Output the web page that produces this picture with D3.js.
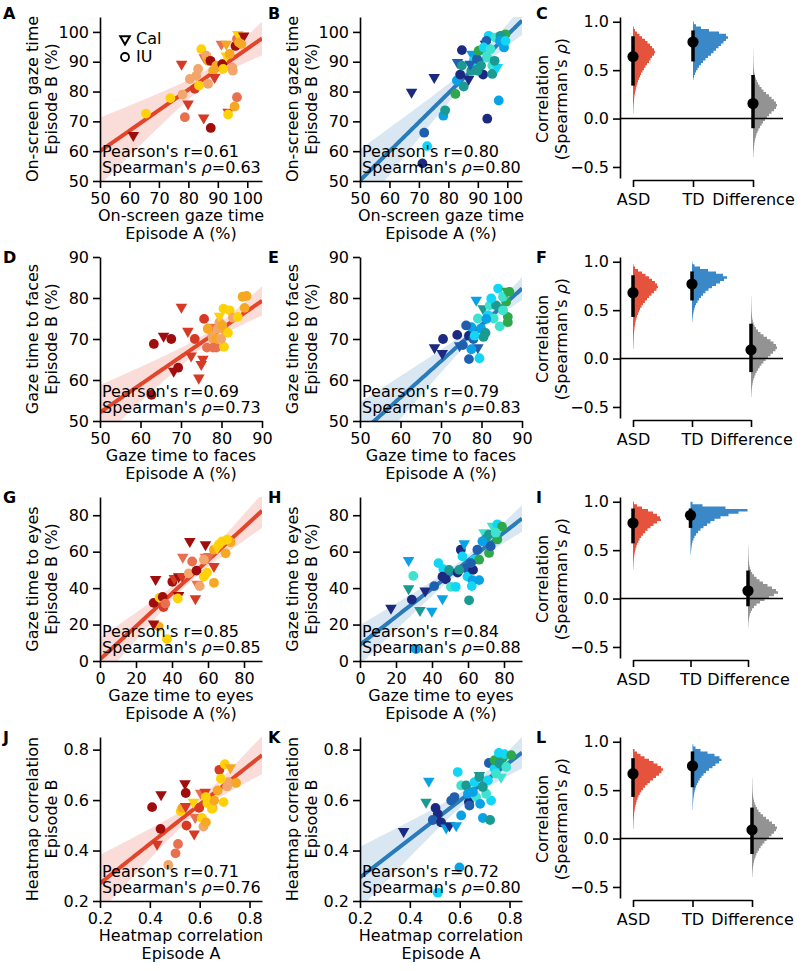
<!DOCTYPE html>
<html>
<head>
<meta charset="utf-8">
<script src="https://cdn.jsdelivr.net/npm/d3@7"></script>
<style>
  body { margin: 0; background: #fff; }
  svg text { font-family: "DejaVu Sans", sans-serif; font-size: 16px; fill: #000; }
</style>
</head>
<body>
<svg id="fig" width="797" height="971"></svg>
<script>
// ---- scatter data: [episode A, episode B, site ("t" = Cal, "c" = IU), colour index]
const onscreenASD = [
  [61.3,65.3,"t",0],[65.6,72.6,"c",5],[73.9,77.8,"c",5],[78,79,"c",3],[77.7,89.2,"t",1],
  [79.9,75.9,"t",1],[78.8,71.4,"c",2],[82.2,80.9,"c",1],[80.5,84.2,"c",3],[83.3,87.6,"c",3],
  [82.7,85.3,"c",3],[84.4,94.2,"c",5],[83.6,82.0,"c",5],[86.7,82.6,"c",3],[85.2,71.2,"t",1],
  [87.6,67.8,"c",0],[85.4,91.4,"t",2],[86.1,92.0,"c",3],[86.7,90.3,"c",4],[87.5,90.3,"c",0],
  [88.4,87.0,"c",4],[88.9,84.8,"t",1],[89.5,88.7,"c",4],[91.5,89.2,"c",0],[91.8,87.6,"c",5],
  [91.2,95.9,"t",2],[92.9,95.9,"t",4],[92.9,92.0,"t",5],[94.0,92.6,"c",4],[94.9,88.1,"c",3],
  [95.1,87.0,"c",3],[93.5,73.1,"t",1],[93.5,72.3,"c",5],[95.7,75.0,"c",4],[96.5,78.1,"c",2],
  [96.0,95.3,"c",0],[96.5,97.6,"c",2],[96.8,99.2,"t",5],[97.2,96.4,"c",4],[98.8,98.7,"t",0],
  [98.0,95.9,"c",4]
];
const onscreenTD = [
  [67.5,79.8,"t",0],[75.2,84.8,"t",0],[71.2,55.9,"c",0],[72.8,61.7,"c",3],[71.8,66.2,"c",1],
  [78.3,71.9,"c",2],[78.9,73.7,"c",5],[82.4,79.2,"c",6],[82.9,83.7,"c",2],[85.2,81.7,"c",5],
  [84.0,85.7,"c",0],[84.6,93.9,"c",0],[83.1,89.8,"t",1],[84.6,88.7,"c",5],[86.9,84.2,"t",0],
  [87.8,87.0,"c",5],[88.0,92.6,"t",2],[88.6,90.3,"c",3],[89.7,90.9,"c",1],[91.1,88.7,"c",5],
  [91.8,85.7,"c",0],[93.2,70.9,"c",0],[93.7,98.7,"c",3],[92.6,95.9,"t",0],[94.9,88.7,"c",4],
  [94.9,85.9,"c",5],[96.6,88.1,"t",3],[97.1,77.0,"c",2],[96.0,98.1,"c",4],[98.3,96.4,"c",6],
  [99.4,99.2,"c",6],[97.7,98.7,"c",5],[93.2,91.4,"c",4],[92.0,93.7,"t",4],[92.9,97.0,"c",1],
  [98.9,94.8,"c",2],[89.9,87.0,"c",5],[90.3,93.7,"c",6],[87.4,89.2,"t",1],[92.0,94.8,"c",3],
  [94.3,94.2,"c",4],[95.7,90.3,"c",5],[97.5,97.0,"c",2],[99.4,97.0,"c",3]
];
const facesASD = [
  [62.7,56.4,"c",0],[63.3,68.8,"c",0],[65.7,70.7,"t",0],[67.6,70.0,"c",0],[70.1,77.8,"t",1],
  [71.7,71.9,"t",1],[69.3,63.0,"c",0],[68.2,62.2,"t",0],[72.5,65.9,"t",1],[73.4,70.0,"c",1],
  [74.4,60.5,"t",1],[75.0,63.8,"t",1],[75.4,65.1,"t",1],[75.7,74.9,"c",1],[76.4,67.9,"c",2],
  [77.5,72.9,"t",2],[77.9,70.0,"c",3],[78.7,67.9,"c",2],[79.1,72.5,"c",3],[79.5,74.1,"c",3],
  [79.5,75.6,"t",5],[80.2,73.3,"c",4],[80.5,77.4,"c",5],[80.6,68.1,"c",5],[81.1,71.8,"c",4],
  [81.6,71.5,"c",5],[82.0,77.0,"c",5],[77.7,70.8,"c",3],[78.7,70.0,"c",4],[85.2,80.3,"c",4],
  [86.2,80.5,"c",4],[85.7,77.6,"c",4],[82.8,75.2,"c",3],[84.0,75.4,"c",5],[76.6,72.5,"c",4],
  [77.9,67.9,"c",2],[79.9,70.0,"c",3]
];
const facesTD = [
  [68.4,67.9,"t",0],[70.5,70.0,"c",0],[70.3,66.5,"t",0],[74.0,71.0,"c",0],[75.4,68.5,"c",1],
  [76.9,70.8,"c",0],[76.9,65.1,"c",1],[77.5,72.9,"c",2],[78.0,70.0,"c",1],[78.7,79.5,"t",2],
  [79.5,65.3,"c",3],[79.1,67.9,"t",1],[79.9,72.5,"c",2],[79.1,75.0,"c",4],[80.4,77.4,"t",5],
  [81.0,71.5,"c",5],[81.6,75.8,"c",3],[82.0,78.2,"c",4],[83.0,75.0,"c",4],[84.1,82.3,"c",3],
  [84.5,73.1,"c",4],[86.1,79.1,"c",6],[86.5,75.4,"c",6],[86.5,74.1,"c",6],[86.9,81.5,"c",6],
  [85.3,80.3,"c",4],[86.3,81.7,"t",6],[83.6,78.2,"c",5],[81.2,74.9,"c",2],[78.3,70.8,"c",3],
  [77.5,67.5,"c",2],[85.3,77.0,"c",4],[76.2,73.3,"c",1],[74.6,68.4,"t",1],[82.4,79.9,"c",3],
  [80.5,70.5,"c",5]
];
const eyesASD = [
  [37.2,12.0,"c",5],[32.6,18.9,"c",4],[29.8,20.4,"t",0],[29.8,31.9,"c",0],[33.1,34.8,"c",5],
  [34.8,35.2,"c",0],[30.9,44.8,"t",0],[35.3,29.6,"c",1],[36.3,31.5,"c",2],[40.2,43.5,"c",0],
  [41.3,45.4,"t",1],[43.7,46.3,"t",0],[43.7,36.1,"t",0],[43.2,34.3,"c",5],[45.6,46.3,"t",1],
  [46.0,57.0,"t",2],[49.9,65.7,"t",0],[49.3,48.1,"c",3],[51.2,54.6,"c",2],[53.0,34.3,"t",1],
  [53.6,49.6,"c",0],[54.0,42.2,"t",2],[55.4,41.1,"c",3],[58.6,63.9,"t",0],[57.7,46.3,"c",5],
  [59.5,48.5,"c",5],[63.3,42.9,"c",4],[58.6,57.0,"t",2],[63.3,51.9,"t",1],[60.5,57.4,"t",2],
  [63.3,61.1,"c",4],[66.0,63.9,"c",5],[67.9,65.7,"c",5],[69.8,59.1,"c",4],[72.6,65.2,"c",4],
  [70.7,66.7,"c",5],[65.1,62.0,"t",5],[57.7,55.6,"c",3]
];
const eyesTD = [
  [17.2,29.1,"t",0],[27.0,55.2,"t",2],[29.6,46.7,"c",4],[27.0,39.8,"t",5],[28.8,33.7,"c",0],
  [31.1,6.5,"c",2],[33.3,27.8,"t",5],[39.9,27.4,"t",2],[36.2,38.5,"t",0],[41.2,41.1,"c",1],
  [43.6,53.7,"c",3],[45.8,34.3,"t",2],[46.3,50.4,"c",3],[47.7,44.8,"c",0],[49.5,50.0,"c",5],
  [50.5,40.7,"c",4],[53.2,40.7,"c",3],[54.2,48.5,"c",0],[56.0,61.1,"c",0],[57.9,64.4,"t",2],
  [58.8,50.9,"c",1],[60.6,33.3,"c",5],[59.7,46.3,"c",3],[62.5,44.4,"c",2],[62.1,41.1,"c",3],
  [62.8,50.0,"c",0],[65.2,61.1,"c",1],[66.2,44.4,"c",2],[63.4,55.6,"c",3],[66.2,55.6,"c",6],
  [71.7,59.3,"c",6],[68.9,70.4,"t",4],[69.9,67.0,"c",5],[68.0,65.7,"c",2],[71.7,69.4,"c",5],
  [76.3,66.7,"c",6],[73.6,74.1,"t",4],[76.3,75.0,"c",3],[78.9,73.7,"c",6],[75.4,70.4,"c",4],
  [72.6,63.0,"c",1],[55.1,50.0,"c",5],[45.8,46.3,"c",0],[56.9,57.4,"c",3],[61.6,53.7,"c",1]
];
const heatASD = [
  [0.409,0.572,"c",0],[0.445,0.622,"t",0],[0.443,0.486,"c",0],[0.429,0.426,"t",1],[0.474,0.343,"c",3],
  [0.503,0.389,"c",2],[0.513,0.426,"c",2],[0.541,0.665,"t",0],[0.544,0.628,"c",0],[0.524,0.556,"c",5],
  [0.530,0.569,"c",4],[0.544,0.575,"t",1],[0.547,0.499,"c",1],[0.582,0.532,"t",2],[0.578,0.466,"t",1],
  [0.598,0.569,"c",1],[0.575,0.592,"t",5],[0.609,0.529,"c",5],[0.615,0.495,"c",3],[0.625,0.512,"c",4],
  [0.604,0.628,"t",2],[0.622,0.632,"t",1],[0.631,0.588,"c",5],[0.652,0.569,"c",3],[0.649,0.565,"c",5],
  [0.658,0.598,"c",4],[0.696,0.592,"c",5],[0.679,0.720,"c",1],[0.701,0.742,"c",5],[0.723,0.729,"t",4],
  [0.715,0.671,"c",3],[0.746,0.668,"c",4],[0.685,0.685,"c",5],[0.710,0.654,"c",3],[0.672,0.638,"c",4],
  [0.625,0.612,"c",5]
];
const heatTD = [
  [0.375,0.476,"t",0],[0.476,0.675,"t",2],[0.465,0.592,"t",5],[0.503,0.569,"c",0],[0.512,0.545,"c",0],
  [0.492,0.521,"c",1],[0.525,0.512,"c",0],[0.546,0.490,"t",2],[0.559,0.499,"t",0],[0.586,0.499,"t",2],
  [0.599,0.333,"c",2],[0.512,0.233,"c",3],[0.579,0.612,"c",1],[0.592,0.711,"c",3],[0.606,0.539,"c",2],
  [0.606,0.658,"c",4],[0.626,0.658,"c",5],[0.637,0.592,"c",0],[0.639,0.578,"c",1],[0.633,0.625,"c",2],
  [0.659,0.671,"c",3],[0.666,0.612,"c",4],[0.682,0.585,"c",2],[0.679,0.691,"c",5],[0.679,0.698,"t",5],
  [0.717,0.747,"c",1],[0.726,0.598,"c",3],[0.693,0.529,"c",2],[0.722,0.521,"c",5],[0.706,0.625,"c",4],
  [0.740,0.725,"c",3],[0.766,0.691,"t",4],[0.740,0.758,"c",6],[0.773,0.768,"c",6],[0.757,0.787,"c",3],
  [0.780,0.782,"c",3],[0.807,0.778,"c",6],[0.746,0.705,"c",4],[0.760,0.745,"c",5],[0.653,0.632,"c",2],
  [0.566,0.598,"c",1],[0.713,0.678,"c",3],[0.787,0.731,"c",4],[0.693,0.652,"c",5]
];

const pearsonVals  = [0.61, 0.80, 0.69, 0.79, 0.85, 0.84, 0.71, 0.72];
const spearmanVals = [0.63, 0.80, 0.73, 0.83, 0.85, 0.88, 0.76, 0.80];
// regression line: fitted Episode B at the left and right axis limits
const fitEnds = [[60.0, 97.8], [50.2, 103.8], [52.1, 79.3], [46.9, 82.3],
                 [0.9, 82.4], [8.9, 78.2], [0.270, 0.778], [0.293, 0.788]];

const measureNames = ["On-screen gaze time", "Gaze time to faces", "Gaze time to eyes", "Heatmap correlation"];
const episodeB = ["Episode B (%)", "Episode B (%)", "Episode B (%)", "Episode B"];
const episodeA = ["Episode A (%)", "Episode A (%)", "Episode A (%)", "Episode A"];
const axisDomains = [[50, 105], [50, 90], [0, 90], [0.2, 0.85]];
const axisTicks = [[50,60,70,80,90,100], [50,60,70,80,90], [0,20,40,60,80], [0.2,0.4,0.6,0.8]];

// ---- bootstrap distributions of Spearman's rho: [first bin lower edge, counts per 0.025 bin]
const groups = ["ASD", "TD", "Difference"];
const binW = 0.025;
const histC = [
  [0.05, [0.3,0.4,0.5,0.6,0.8,1,1.2,1.5,2,2.5,3,3.6,4.3,5,6,7,8,9.5,11,12.5,14,16,17.5,19,21,22,21,19,17,14.5,12,9,6.5,4,2,0.8]],
  [0.40, [0.5,1,2,3,4.5,6,8,10,12.5,15,18,20.5,23,25.5,28,30.5,33,35,33,26,16,8,3,0.8]],
  [-0.40, [0.3,0.4,0.6,0.8,1,1.3,1.7,2.2,2.8,3.5,4.5,5.5,7,8.5,10,12,14,16,18.5,21,23,24,23,21,18.5,16,13,10.5,8.5,6.5,5,3.8,2.8,2,1.5,1.1,0.8,0.6,0.5,0.4,0.3,0.3,0.2,0.2,0.1]]
];
const histF = [
  [0.10, [0.3,0.4,0.5,0.6,0.7,0.8,1,1.2,1.5,1.8,2.2,2.7,3.3,4,5,6,7,8.5,10,12,14,16,18.5,21,23.5,25,24,22,19,16,12.5,9,5,2,0.5]],
  [0.375, [0.3,0.5,0.8,1.2,1.7,2.3,3,4,5.5,7,9,11,13.5,16.5,20,24,28,32,35,31,24,16,8,2.5,0.5]],
  [-0.40, [0.3,0.4,0.6,0.8,1.1,1.5,2,2.6,3.4,4.4,5.6,7,8.6,10.4,12.4,14.6,17,19.5,22,24.5,26,25,22.5,19.5,16,12.5,9.5,7,5,3.5,2.5,1.8,1.3,1,0.8,0.6,0.5,0.4,0.3,0.3,0.2,0.2]]
];
const histI = [
  [0.30, [0.3,0.4,0.5,0.7,0.9,1.2,1.5,2,2.6,3.3,4.2,5.3,6.6,8.2,10,12.2,14.6,17.5,20.5,24,28,27,24,20,15,9,4,1]],
  [0.45, [0.3,0.5,0.8,1.1,1.5,2,3,4,5.5,7.5,10,13,16.5,20,24,30,38,48,57,35,12,2]],
  [-0.30, [0.3,0.4,0.6,0.9,1.3,1.9,2.8,4,6,8.5,12,16.5,21,26,30,28,24,19.5,15,11.5,8.5,6,4.2,3,2.1,1.5,1.1,0.8,0.6,0.5,0.4,0.3,0.3,0.2]]
];
const histL = [
  [0.10, [0.3,0.4,0.5,0.6,0.8,1,1.2,1.5,1.9,2.4,3,3.7,4.5,5.5,6.8,8.2,10,12,14.5,17,20,23,26,28.5,30,28,24.5,20.5,16,11.5,7.5,4,1.5]],
  [0.30, [0.3,0.4,0.5,0.7,0.9,1.2,1.6,2.1,2.8,3.6,4.6,5.8,7.2,9,11,13.5,16.5,20,23,26.5,29,27,22,15,8,3,0.8]],
  [-0.40, [0.3,0.4,0.6,0.8,1.1,1.5,2,2.6,3.4,4.4,5.6,7,8.6,10.4,12.4,14.6,17,19.5,22,24,25,23,20,17,14,11,8.5,6.5,5,3.7,2.7,2,1.5,1.1,0.8,0.6,0.5,0.4,0.3,0.3,0.2]]
];
// point estimate, lower CI, upper CI for ASD, TD, Difference
const estC = [[0.64,0.34,0.85],[0.79,0.59,0.91],[0.155,-0.10,0.45]];
const estF = [[0.68,0.43,0.86],[0.77,0.60,0.90],[0.09,-0.14,0.36]];
const estI = [[0.78,0.57,0.93],[0.86,0.73,0.93],[0.08,-0.08,0.29]];
const estL = [[0.67,0.43,0.83],[0.75,0.53,0.90],[0.09,-0.16,0.32]];

const palASD = ["#a00d0d", "#d73a24", "#e9704e", "#f3a66b", "#f7a823", "#ffd109"];
const palTD  = ["#1b2a80", "#1f5fae", "#0aa2e6", "#12d6f5", "#3ee3cf", "#1a9a90", "#2ea84a"];
const lineASD = "#e3452b", lineTD = "#2a7bba";
const histColors = ["#e5533d", "#3a88c8", "#939393"];

const svg = d3.select("#fig");
const rowTop = [17, 257, 497, 737];
const labelBase = [19, 263, 503, 743];
const plotW = 162, plotH = 164;

function styleAxis(g) {
  g.select(".domain").attr("stroke", "#000").attr("stroke-width", 1.6);
  g.selectAll(".tick line").attr("stroke", "#000").attr("stroke-width", 1.6);
  g.selectAll(".tick text").attr("font-size", 16).attr("font-family", "DejaVu Sans");
}

function scatterPanel(o) {
  const x = d3.scaleLinear().domain(o.dom).range([o.left, o.left + plotW]);
  const y = d3.scaleLinear().domain(o.dom).range([o.top + plotH, o.top]);
  const cid = "clip" + o.letter;
  svg.append("clipPath").attr("id", cid).append("rect")
    .attr("x", o.left).attr("y", o.top).attr("width", plotW).attr("height", plotH);

  // fitted line (from the figure) and its 95% band from the scatter's residuals
  const b = (o.fit[1] - o.fit[0]) / (o.dom[1] - o.dom[0]);
  const a = o.fit[0] - b * o.dom[0];
  const xs = o.pts.map(d => d[0]), ys = o.pts.map(d => d[1]);
  const n = xs.length, mx = d3.mean(xs);
  let sxx = 0, sse = 0;
  xs.forEach((v, i) => { sxx += (v - mx) ** 2; sse += (ys[i] - a - b * v) ** 2; });
  const s = Math.sqrt(sse / (n - 2));
  const grid = d3.range(0, 101).map(i => o.dom[0] + (o.dom[1] - o.dom[0]) * i / 100);
  const band = grid.map(v => {
    const se = s * Math.sqrt(1 / n + (v - mx) ** 2 / sxx);
    return { x: v, fit: a + b * v, lo: a + b * v - 2.02 * se, hi: a + b * v + 2.02 * se };
  });
  const clipped = svg.append("g").attr("clip-path", `url(#${cid})`);
  clipped.append("path").datum(band)
    .attr("d", d3.area().x(d => x(d.x)).y0(d => y(d.lo)).y1(d => y(d.hi)))
    .attr("fill", o.line).attr("fill-opacity", 0.18);

  const tri = d3.symbol(d3.symbolTriangle, 58)();
  const pg = svg.append("g");
  o.pts.forEach(d => {
    if (d[2] === "c") {
      pg.append("circle").attr("cx", x(d[0])).attr("cy", y(d[1])).attr("r", 4.9).attr("fill", o.pal[d[3]]);
    } else {
      pg.append("path").attr("d", tri)
        .attr("transform", `translate(${x(d[0])},${y(d[1])}) rotate(180)`).attr("fill", o.pal[d[3]]);
    }
  });

  clipped.append("path").datum(band)
    .attr("d", d3.line().x(d => x(d.x)).y(d => y(d.fit)))
    .attr("fill", "none").attr("stroke", o.line).attr("stroke-width", 4);

  const fmt = o.dom[1] < 1 ? d3.format(".1f") : d3.format("d");
  svg.append("g").attr("transform", `translate(0,${o.top + plotH})`)
    .call(d3.axisBottom(x).tickValues(o.ticks).tickFormat(fmt).tickSize(7).tickSizeOuter(0).tickPadding(5))
    .call(styleAxis);
  svg.append("g").attr("transform", `translate(${o.left},0)`)
    .call(d3.axisLeft(y).tickValues(o.ticks).tickFormat(fmt).tickSize(7).tickSizeOuter(0).tickPadding(4))
    .call(styleAxis);

  // stats text
  const tx = svg.append("g");
  tx.append("text").attr("x", o.left + 2).attr("y", o.top + plotH - 24)
    .text(`Pearson's r=${o.r.toFixed(2)}`);
  const t2 = tx.append("text").attr("x", o.left + 2).attr("y", o.top + plotH - 8);
  t2.append("tspan").text("Spearman's ");
  t2.append("tspan").attr("font-style", "italic").text("ρ");
  t2.append("tspan").text(`=${o.rho.toFixed(2)}`);

  // axis labels
  svg.append("text").attr("x", o.left + plotW / 2).attr("y", o.top + plotH + 40)
    .attr("text-anchor", "middle").text(o.name);
  svg.append("text").attr("x", o.left + plotW / 2).attr("y", o.top + plotH + 58)
    .attr("text-anchor", "middle").text(o.xSub);
  [[o.name, 68], [o.ySub, 49]].forEach(([t, off]) => {
    svg.append("text")
      .attr("transform", `translate(${o.left - off},${o.top + plotH / 2}) rotate(-90)`)
      .attr("text-anchor", "middle").attr("dy", "0.35em").text(t);
  });

  svg.append("text").attr("x", o.left - (o.left > 200 ? 92 : 97)).attr("y", o.labelY)
    .attr("font-weight", "bold").attr("font-size", 17).text(o.letter);
}

function bootPanel(o) {
  const left = 620, T = o.top;
  const y = d3.scaleLinear().domain([-0.614, 1.049]).range([T + 161, T]);
  const x = d3.scalePoint().domain(groups).range([633, o.xEnd]);
  const w = d3.scaleLinear().domain([0, 60]).range([0, 60]);

  // half-violin histograms as stepped areas
  o.hist.forEach(([start, counts], gi) => {
    const cx = x(groups[gi]);
    const steps = counts.flatMap((c, j) => [[start + j * binW, c], [start + (j + 1) * binW, c]]);
    svg.append("path").datum(steps)
      .attr("d", d3.area().y(d => y(d[0])).x0(cx).x1(d => cx + w(d[1])))
      .attr("fill", histColors[gi]);
  });

  svg.append("line").attr("x1", left).attr("x2", 783).attr("y1", y(0)).attr("y2", y(0))
    .attr("stroke", "#000").attr("stroke-width", 1.6);

  o.est.forEach(([m, lo, hi], gi) => {
    const cx = x(groups[gi]);
    svg.append("line").attr("x1", cx).attr("x2", cx).attr("y1", y(lo)).attr("y2", y(hi))
      .attr("stroke", "#000").attr("stroke-width", 3.5);
    svg.append("circle").attr("cx", cx).attr("cy", y(m)).attr("r", 5.6).attr("fill", "#000");
  });

  svg.append("g").attr("transform", `translate(${left},0)`)
    .call(d3.axisLeft(y).tickValues([-0.5, 0, 0.5, 1.0]).tickFormat(d3.format(".1f"))
      .tickSize(7).tickSizeOuter(0).tickPadding(4))
    .call(styleAxis);

  // trimmed bottom axis
  svg.append("g").attr("transform", `translate(0,${T + 163})`)
    .call(d3.axisBottom(x).tickSize(7).tickSizeOuter(0).tickPadding(7))
    .call(styleAxis);

  svg.append("text")
    .attr("transform", `translate(${left - 78},${T + 82}) rotate(-90)`)
    .attr("text-anchor", "middle").attr("dy", "0.35em").text("Correlation");
  const yl = svg.append("text")
    .attr("transform", `translate(${left - 59},${T + 82}) rotate(-90)`)
    .attr("text-anchor", "middle").attr("dy", "0.35em");
  yl.append("tspan").text("(Spearman's ");
  yl.append("tspan").attr("font-style", "italic").text("ρ");
  yl.append("tspan").text(")");

  svg.append("text").attr("x", 536).attr("y", o.labelY)
    .attr("font-weight", "bold").attr("font-size", 17).text(o.letter);
}

const asdSets = [onscreenASD, facesASD, eyesASD, heatASD];
const tdSets = [onscreenTD, facesTD, eyesTD, heatTD];
const bootHists = [histC, histF, histI, histL];
const bootEsts = [estC, estF, estI, estL];
const letters = [["A","B","C"], ["D","E","F"], ["G","H","I"], ["J","K","L"]];
const bootEnds = [753, 751, 748, 752];

for (let r = 0; r < 4; r++) {
  const common = { top: rowTop[r], dom: axisDomains[r], ticks: axisTicks[r], name: measureNames[r],
    xSub: episodeA[r], ySub: episodeB[r], labelY: labelBase[r] };
  scatterPanel({ ...common, left: 100, pts: asdSets[r], pal: palASD, line: lineASD, fit: fitEnds[2 * r],
    r: pearsonVals[2 * r], rho: spearmanVals[2 * r], letter: letters[r][0] });
  scatterPanel({ ...common, left: 360, pts: tdSets[r], pal: palTD, line: lineTD, fit: fitEnds[2 * r + 1],
    r: pearsonVals[2 * r + 1], rho: spearmanVals[2 * r + 1], letter: letters[r][1] });
  bootPanel({ top: rowTop[r], hist: bootHists[r], est: bootEsts[r], xEnd: bootEnds[r],
    letter: letters[r][2], labelY: labelBase[r] });
}

// site legend in panel A
const leg = svg.append("g");
leg.append("path").attr("d", d3.symbol(d3.symbolTriangle, 40)())
  .attr("transform", "translate(125,39) rotate(180)")
  .attr("fill", "#fff").attr("stroke", "#000").attr("stroke-width", 2);
leg.append("text").attr("x", 136).attr("y", 44).text("Cal");
leg.append("circle").attr("cx", 125).attr("cy", 57).attr("r", 4)
  .attr("fill", "#fff").attr("stroke", "#000").attr("stroke-width", 1.8);
leg.append("text").attr("x", 136).attr("y", 62).text("IU");
</script>
</body>
</html>
